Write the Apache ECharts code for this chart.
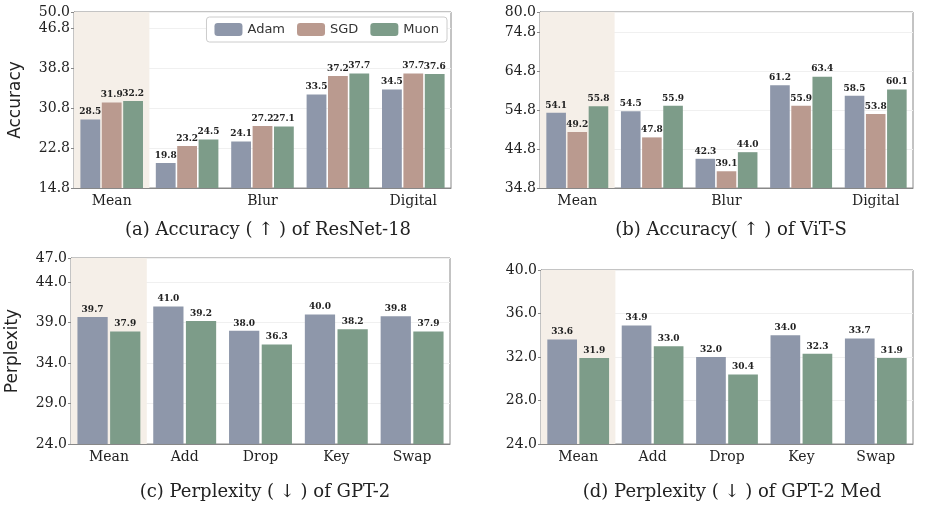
<!DOCTYPE html>
<html><head><meta charset="utf-8">
<script src="https://cdn.jsdelivr.net/npm/echarts@6/dist/echarts.min.js"></script>
<style>html,body{margin:0;background:#fff}#main{width:925px;height:512px}</style>
</head><body><div id="main"></div>
<script>
// data
var catsA = ['Mean', 'Noise', 'Blur', 'Weather', 'Digital'];
var catsC = ['Mean', 'Add', 'Drop', 'Key', 'Swap'];
var resAdam = [28.5, 19.8, 24.1, 33.5, 34.5];
var resSgd = [31.9, 23.2, 27.2, 37.2, 37.7];
var resMuon = [32.2, 24.5, 27.1, 37.7, 37.6];
var vitAdam = [54.1, 54.5, 42.3, 61.2, 58.5];
var vitSgd = [49.2, 47.8, 39.1, 55.9, 53.8];
var vitMuon = [55.8, 55.9, 44.0, 63.4, 60.1];
var gptAdam = [39.7, 41.0, 38.0, 40.0, 39.8];
var gptMuon = [37.9, 39.2, 36.3, 38.2, 37.9];
var medAdam = [33.6, 34.9, 32.0, 34.0, 33.7];
var medMuon = [31.9, 33.0, 30.4, 32.3, 31.9];
var titles = ['(a) Accuracy ( \u2191 ) of ResNet-18', '(b) Accuracy( \u2191 ) of ViT-S',
  '(c) Perplexity ( \u2193 ) of GPT-2', '(d) Perplexity ( \u2193 ) of GPT-2 Med'];

var cAdam = '#8e97aa', cSgd = '#ba9a8f', cMuon = '#7d9c89';
var serif = 'DejaVu Serif';

var panels = [
  {cats: catsA, min: 14.8, max: 50, interval: 8, name: 'Accuracy', grid: {left: 74, right: 474, top: 12, height: 176}, tx: 263, ty: 216,
   series: [['Adam', resAdam, cAdam], ['SGD', resSgd, cSgd], ['Muon', resMuon, cMuon]]},
  {cats: catsA, min: 34.8, max: 80, interval: 10, name: '', grid: {left: 540, right: 12, top: 12, height: 176}, tx: 726, ty: 216,
   series: [['Adam', vitAdam, cAdam], ['SGD', vitSgd, cSgd], ['Muon', vitMuon, cMuon]]},
  {cats: catsC, min: 24, max: 47, interval: 5, name: 'Perplexity', grid: {left: 71, right: 475, top: 258, height: 186}, tx: 260, ty: 478,
   series: [['Adam', gptAdam, cAdam], ['Muon', gptMuon, cMuon]]},
  {cats: catsC, min: 24, max: 40, interval: 4, name: '', grid: {left: 541, right: 12, top: 270, height: 174}, tx: 727, ty: 478,
   series: [['Adam', medAdam, cAdam], ['Muon', medMuon, cMuon]]}
];

var option = {
  animation: false,
  title: [], grid: [], xAxis: [], yAxis: [], series: [],
  legend: {
    data: ['Adam', 'SGD', 'Muon'], right: 478, top: 17, itemWidth: 28, itemHeight: 13, itemGap: 12,
    padding: [6, 8], borderColor: '#ccc', borderWidth: 1, borderRadius: 3, backgroundColor: '#fff',
    textStyle: {fontFamily: 'DejaVu Sans', fontSize: 13, color: '#333'}
  }
};

panels.forEach(function(p, i) {
  option.grid.push(Object.assign({show: true, borderColor: '#888', borderWidth: 1, backgroundColor: 'transparent'}, p.grid));
  option.title.push({text: titles[i], left: p.tx, top: p.ty, textAlign: 'center',
    textStyle: {fontFamily: serif, fontSize: 18, fontWeight: 'normal', color: '#222'}});
  option.xAxis.push({type: 'category', data: p.cats, gridIndex: i,
    axisTick: {show: false}, axisLine: {lineStyle: {color: '#888'}},
    axisLabel: {fontFamily: serif, fontSize: 14, color: '#222', margin: 6}});
  option.xAxis.push({type: 'category', data: p.cats, gridIndex: i, show: false});
  option.yAxis.push({type: 'value', gridIndex: i, min: p.min, max: p.max, interval: p.interval,
    name: p.name, nameLocation: 'middle', nameGap: 50,
    nameTextStyle: {fontFamily: 'DejaVu Sans', fontSize: 17, color: '#222'},
    axisLine: {show: true, lineStyle: {color: '#888'}}, axisTick: {show: true, length: 3, lineStyle: {color: '#888'}},
    splitLine: {lineStyle: {color: '#f0f0f0'}},
    axisLabel: {fontFamily: serif, fontSize: 14, color: '#222', margin: 4,
      formatter: function(v) { return v.toFixed(1); }}});
  // shaded Mean band
  option.series.push({type: 'bar', xAxisIndex: i * 2 + 1, yAxisIndex: i, barWidth: '100%', silent: true, z: 0,
    itemStyle: {color: '#f5efe8'}, data: p.cats.map(function(c, k) { return k === 0 ? p.max : null; })});
  p.series.forEach(function(s) {
    option.series.push({name: s[0], type: 'bar', xAxisIndex: i * 2, yAxisIndex: i, data: s[1], z: 2,
      barGap: '8%', barCategoryGap: p.series.length === 3 ? '17%' : '17%',
      itemStyle: {color: s[2]},
      label: {show: true, position: 'top', distance: 3, fontFamily: serif, fontWeight: 'bold', fontSize: 9, color: '#222',
        formatter: function(d) { return d.value.toFixed(1); }}});
  });
});

var myChart = echarts.init(document.getElementById('main'));
myChart.setOption(option);
</script>
</body></html>
